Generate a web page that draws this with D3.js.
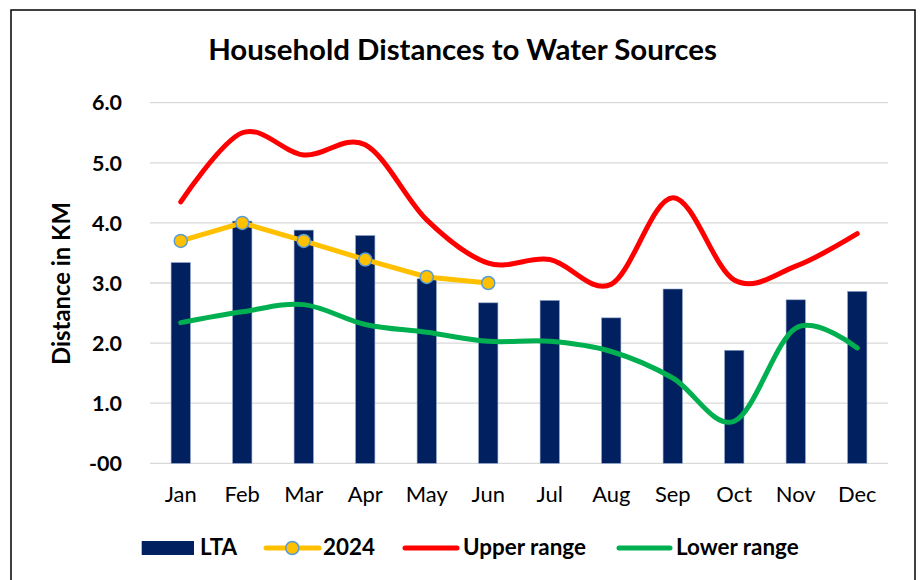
<!DOCTYPE html>
<html><head><meta charset="utf-8">
<script src="https://cdn.jsdelivr.net/npm/d3@7"></script>
<style>body{margin:0;background:#fff}svg{display:block}text{font-family:Lato,"Open Sans",sans-serif}</style>
</head><body><svg id="c" width="921" height="580"></svg>
<script>
const months = ["Jan","Feb","Mar","Apr","May","Jun","Jul","Aug","Sep","Oct","Nov","Dec"];
const lta = [3.34,4.03,3.88,3.79,3.07,2.67,2.71,2.42,2.90,1.88,2.72,2.86];
const y2024 = [3.70,4.00,3.70,3.39,3.10,3.00];
const upper = [4.35,5.50,5.13,5.30,4.05,3.33,3.39,2.98,4.42,3.05,3.28,3.82];
const lower = [2.34,2.52,2.64,2.31,2.18,2.03,2.03,1.86,1.42,0.70,2.25,1.92];
const yTicks = [0,1,2,3,4,5,6];
const yTickLabels = ["-00","1.0","2.0","3.0","4.0","5.0","6.0"];

const svg = d3.select("#c");
// find a font size so that a sample string has the target width
function fit(sample, weight, target){
  const t = svg.append("text").attr("font-size",20).attr("font-weight",weight).text(sample);
  const w = t.node().getComputedTextLength(); t.remove();
  return 20*target/w;
}
const fsTitle = fit("Household Distances to Water Sources","bold",509);
const fsYT = fit("Distance in KM","bold",163);
const fsTick = fit("6.0","bold",30);
const fsX = fit("Jan","normal",32);
const fsLeg = fit("Upper range","bold",123);

svg.append("rect").attr("x",11).attr("y",10).attr("width",904).attr("height",600)
  .attr("fill","#fff").attr("stroke","#000").attr("stroke-width",1.5);

const x = d3.scaleBand().domain(months).range([150,888]);
const y = d3.scaleLinear().domain([0,6]).range([463.3,102.7]);

svg.append("g").selectAll("line").data(yTicks).join("line")
  .attr("x1",150).attr("x2",888).attr("y1",d=>y(d)).attr("y2",d=>y(d))
  .attr("stroke","#d9d9d9").attr("stroke-width",1.3);

svg.append("g").selectAll("text").data(yTicks).join("text")
  .attr("x",122).attr("y",d=>y(d)).attr("dy","0.36em").attr("text-anchor","end")
  .attr("font-size",fsTick).attr("font-weight","bold").attr("fill","#000")
  .text((d,i)=>yTickLabels[i]);

svg.append("g").selectAll("text").data(months).join("text")
  .attr("x",d=>x(d)+x.bandwidth()/2).attr("y",502).attr("text-anchor","middle")
  .attr("font-size",fsX).attr("fill","#000").text(d=>d);

const bw = x.bandwidth()*0.314;
svg.append("g").selectAll("rect").data(lta).join("rect")
  .attr("x",(d,i)=>x(months[i])+x.bandwidth()/2-bw/2).attr("width",bw)
  .attr("y",d=>y(d)).attr("height",d=>y(0)-y(d))
  .attr("fill","#002060").attr("stroke","#8ea2c8").attr("stroke-width",0.6);

const cx = i=>x(months[i])+x.bandwidth()/2;
const smooth = d3.line().x((d,i)=>cx(i)).y(d=>y(d)).curve(d3.curveCatmullRom.alpha(0));
svg.append("path").datum(upper).attr("d",smooth).attr("fill","none")
  .attr("stroke","#ff0000").attr("stroke-width",5).attr("stroke-linecap","round");
svg.append("path").datum(lower).attr("d",smooth).attr("fill","none")
  .attr("stroke","#00b050").attr("stroke-width",5).attr("stroke-linecap","round");

const straight = d3.line().x((d,i)=>cx(i)).y(d=>y(d));
svg.append("path").datum(y2024).attr("d",straight).attr("fill","none")
  .attr("stroke","#ffc000").attr("stroke-width",5).attr("stroke-linecap","round");
svg.append("g").selectAll("circle").data(y2024).join("circle")
  .attr("cx",(d,i)=>cx(i)).attr("cy",d=>y(d)).attr("r",6.5)
  .attr("fill","#ffc000").attr("stroke","#5b9bd5").attr("stroke-width",1.5);

svg.append("text").attr("x",462.5).attr("y",60).attr("text-anchor","middle")
  .attr("font-size",fsTitle).attr("font-weight","bold").attr("fill","#000")
  .text("Household Distances to Water Sources");

svg.append("text").attr("transform","translate(70,283.5) rotate(-90)")
  .attr("text-anchor","middle").attr("font-size",fsYT).attr("font-weight","bold").attr("fill","#000")
  .text("Distance in KM");

const lg = svg.append("g").attr("font-size",fsLeg).attr("font-weight","bold");
lg.append("rect").attr("x",141.7).attr("y",541).attr("width",52.3).attr("height",14).attr("fill","#002060");
lg.append("text").attr("x",200).attr("y",555).text("LTA");
lg.append("line").attr("x1",266).attr("x2",319).attr("y1",548).attr("y2",548)
  .attr("stroke","#ffc000").attr("stroke-width",5).attr("stroke-linecap","round");
lg.append("circle").attr("cx",292.3).attr("cy",548).attr("r",6.5)
  .attr("fill","#ffc000").attr("stroke","#5b9bd5").attr("stroke-width",1.5);
lg.append("text").attr("x",323).attr("y",555).text("2024");
lg.append("line").attr("x1",405).attr("x2",457).attr("y1",548).attr("y2",548)
  .attr("stroke","#ff0000").attr("stroke-width",5).attr("stroke-linecap","round");
lg.append("text").attr("x",463).attr("y",555).text("Upper range");
lg.append("line").attr("x1",619).attr("x2",670).attr("y1",548).attr("y2",548)
  .attr("stroke","#00b050").attr("stroke-width",5).attr("stroke-linecap","round");
lg.append("text").attr("x",676).attr("y",555).text("Lower range");
</script></body></html>
